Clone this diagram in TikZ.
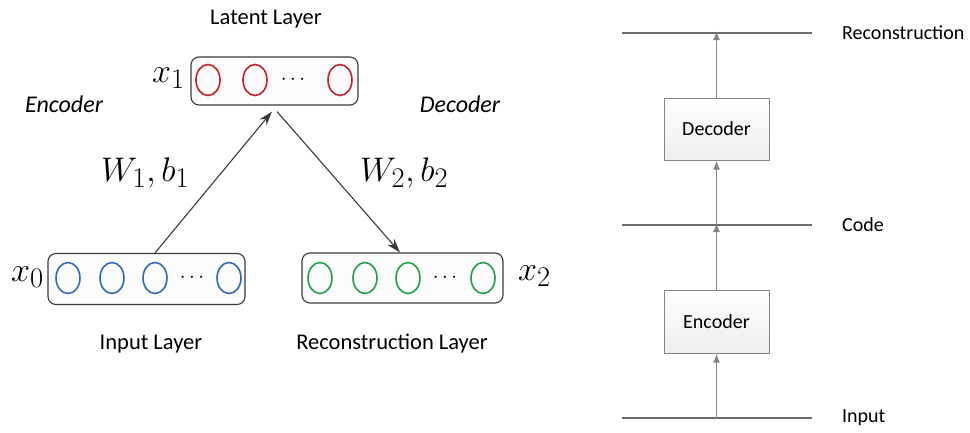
\documentclass[tikz,border=0pt]{standalone}
\usepackage{fontspec}
\setmainfont{Carlito}
\usetikzlibrary{arrows.meta,shapes.geometric}
\definecolor{cred}{HTML}{C0202A}
\definecolor{cblue}{HTML}{2E6DB4}
\definecolor{cgreen}{HTML}{23A04A}
\definecolor{edge}{HTML}{3A3A3A}
\definecolor{lgray}{HTML}{6A6A6A}
\definecolor{agray}{HTML}{858585}
\newcommand{\bigmath}[1]{\scalebox{1.37}{$#1$}}
\tikzset{
  layerbox/.style={draw=edge, line width=1.1pt, rounded corners=8pt, fill=gray!3, inner sep=0pt},
  neuron/.style={ellipse, draw=#1, line width=1.6pt, minimum width=24pt, minimum height=31pt, inner sep=0pt},
  dots/.style={font=\fontsize{22}{26}\selectfont, inner sep=0pt},
  lbl/.style={font=\fontsize{22.5}{26}\selectfont, inner sep=0pt},
  ilbl/.style={font=\fontsize{24}{28}\selectfont\itshape, inner sep=0pt},
  mlbl/.style={font=\fontsize{24.88}{30}\selectfont, inner sep=0pt, anchor=base west},
  conn/.style={draw=edge, line width=1.1pt, -{Stealth[length=14pt,width=9pt]}},
  blk/.style={draw=agray, line width=1pt, top color=white, bottom color=gray!14, minimum width=105pt, inner sep=0pt, font=\fontsize{20}{24}\selectfont},
  hline/.style={draw=lgray, line width=2.6pt},
  up/.style={draw=agray, line width=1.3pt, -{Latex[length=9pt,width=7pt]}},
  rlbl/.style={font=\fontsize{20}{24}\selectfont, anchor=west, inner sep=0pt}
}
\begin{document}
\begin{tikzpicture}[x=1pt,y=-1pt]
\useasboundingbox (0,0) rectangle (970,432);
% ---------- left diagram ----------
\node[layerbox, minimum width=167pt, minimum height=48pt] (lat) at (274.5,81) {};
\node[layerbox, minimum width=197pt, minimum height=51pt] (inp) at (146.5,279) {};
\node[layerbox, minimum width=201pt, minimum height=50pt] (rec) at (402.5,278) {};
% latent neurons
\node[neuron=cred] (l1) at (208,80) {};
\node[neuron=cred] (l2) at (255,80) {};
\node[dots] (ld) at (293,80) {$\cdots$};
\node[neuron=cred] (l3) at (340,80) {};
% input neurons
\node[neuron=cblue] (i1) at (68,278) {};
\node[neuron=cblue] (i2) at (112,278) {};
\node[neuron=cblue] (i3) at (155,278) {};
\node[dots] (id) at (192,278) {$\cdots$};
\node[neuron=cblue] (i4) at (229,278) {};
% reconstruction neurons
\node[neuron=cgreen] (r1) at (320,278) {};
\node[neuron=cgreen] (r2) at (365,278) {};
\node[neuron=cgreen] (r3) at (408,278) {};
\node[dots] (rd) at (445,278) {$\cdots$};
\node[neuron=cgreen] (r4) at (483,278) {};
% labels
\node[lbl] (tlat) at (266,19) {Latent Layer};
\node[lbl] (tinp) at (151,344) {Input Layer};
\node[lbl] (trec) at (392,344) {Reconstruction Layer};
\node[ilbl] (tenc) at (64,104) {Encoder};
\node[ilbl] (tdec) at (460,104) {Decoder};
\node[mlbl] (x1) at (152,82) {\bigmath{x_1}};
\node[mlbl] (x0) at (11,281) {\bigmath{x_0}};
\node[mlbl] (x2) at (518,280) {\bigmath{x_2}};
\node[mlbl] (w1) at (101,181) {\bigmath{W_1,b_1}};
\node[mlbl] (w2) at (360,181) {\bigmath{W_2,b_2}};
% connectors
\draw[conn] (i3 |- inp.north) -- ([xshift=-2.5pt,yshift=-6pt]lat.south);
\draw[conn] ([xshift=2.5pt,yshift=-6pt]lat.south) -- ([xshift=-2.5pt]rec.north);
% ---------- right diagram ----------
\coordinate (rtop) at (716.5,33);
\coordinate (ctop) at (716.5,225);
\coordinate (itop) at (716.5,418);
\draw[hline] (622,33) -- (812,33);
\draw[hline] (622,225) -- (812,225);
\draw[hline] (622,418) -- (812,418);
\node[blk, minimum height=62pt] (dec) at (716.5,129) {Decoder};
\node[blk, minimum height=63pt] (enc) at (716.5,321.5) {Encoder};
\node[rlbl] (trc) at (842,33) {Reconstruction};
\node[rlbl] (tcd) at (842,225) {Code};
\node[rlbl] (tin) at (842,418) {Input};
\draw[up] (dec.north) -- ([yshift=2pt]rtop);
\draw[up] (ctop) -- (dec.south);
\draw[up] (enc.north) -- ([yshift=2pt]ctop);
\draw[up] (itop) -- (enc.south);
\end{tikzpicture}
\end{document}
